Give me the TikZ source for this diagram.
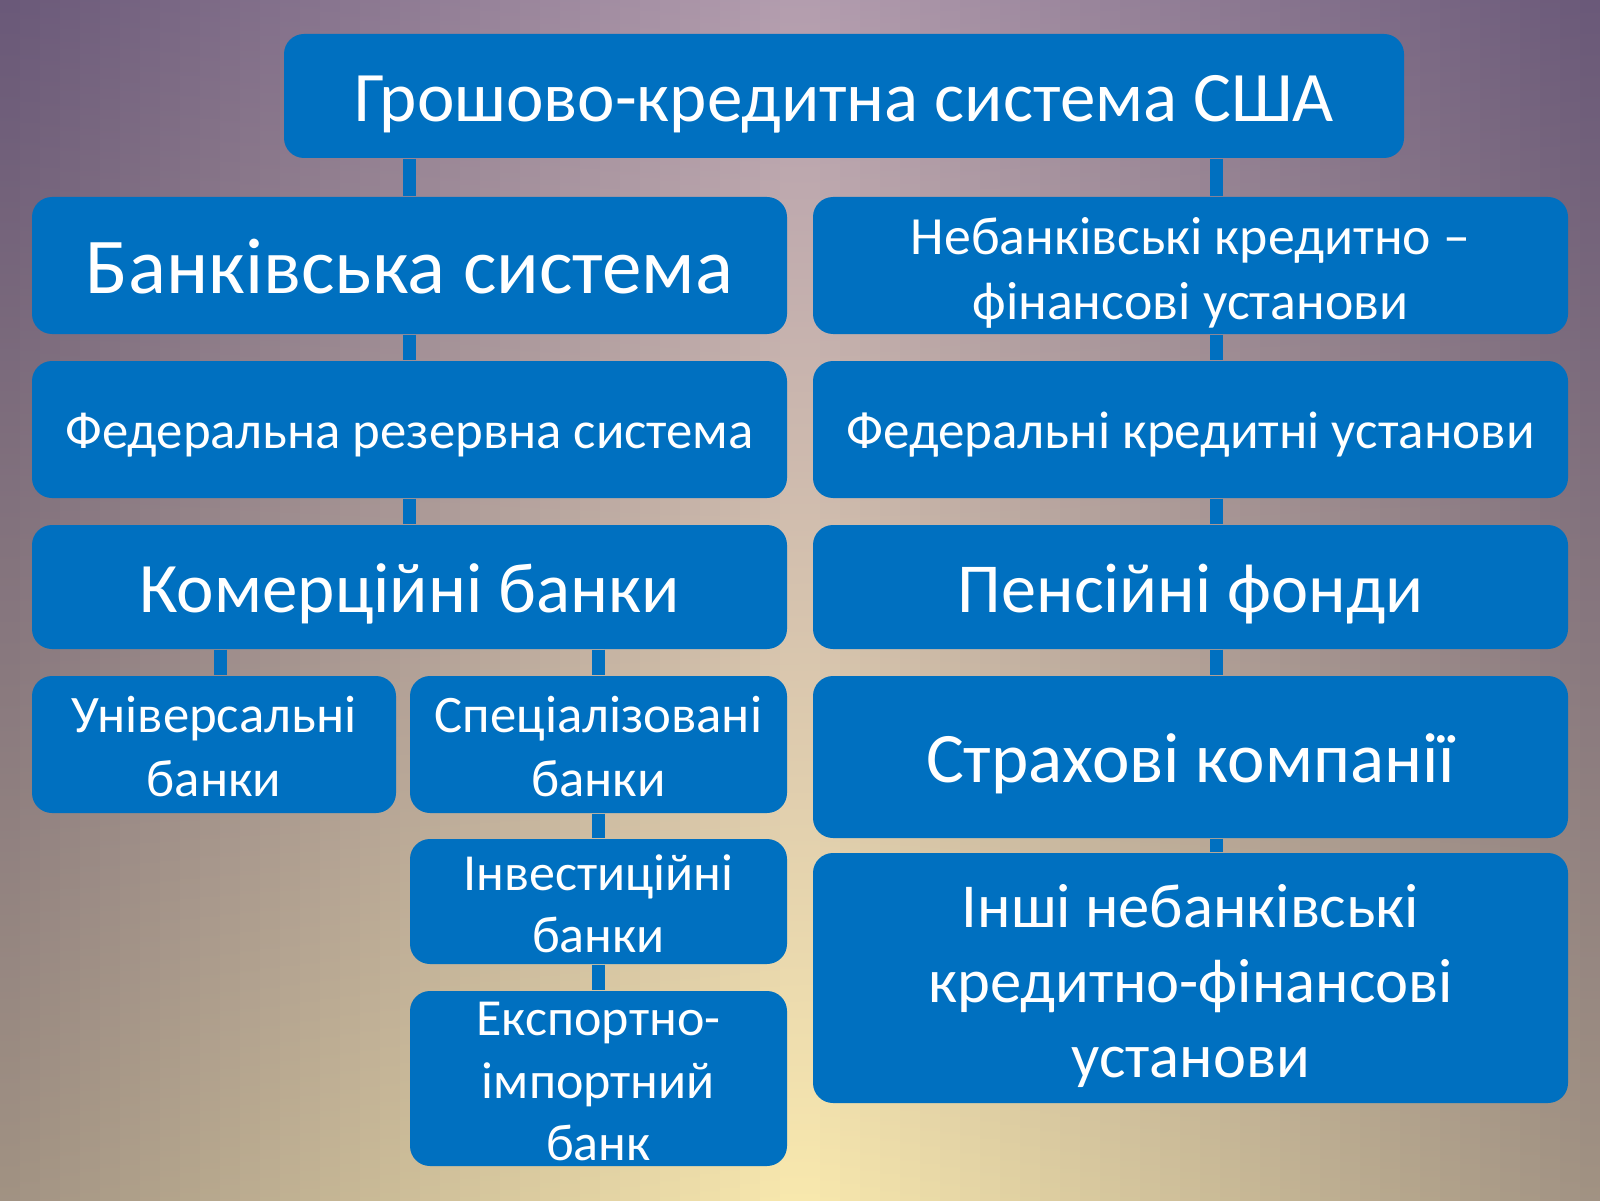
\documentclass[tikz,border=0pt]{standalone}
\usepackage{fontspec}
\setmainfont{Carlito}
\usetikzlibrary{positioning}
\definecolor{boxblue}{HTML}{0070C0}
\definecolor{bgtop}{HTML}{B49EAF}
\definecolor{bgmid}{HTML}{E4D2B4}
\definecolor{bgbot}{HTML}{F9E9AE}
\definecolor{edgetop}{HTML}{695878}
\definecolor{edgemid}{HTML}{918087}
\definecolor{edgebot}{HTML}{A09182}
\tikzset{
  box/.style = {fill=boxblue, rounded corners=0.2cm, text=white, align=center, inner sep=0pt},
  link/.style = {draw=boxblue, line width=0.13cm},
}
\newcommand{\fs}[1]{\fontsize{#1}{1.2\dimexpr #1pt\relax}\selectfont}
\newcommand{\lead}[1]{\rule{0pt}{#1em}}
\newcommand{\oneline}[1]{\rule[-0.1em]{0pt}{0.92em}\smash{#1}}

\begin{document}
\begin{tikzpicture}
  % background
  \useasboundingbox (0,0) rectangle (16,12);
  \foreach \i in {0,...,79} {
    \pgfmathsetmacro{\p}{100*(1-abs(\i*0.2+0.1-8)/8)}
    \shade[top color=bgtop!\p!edgetop, middle color=bgmid!\p!edgemid, bottom color=bgbot!\p!edgebot]
      (\i*0.2,0) rectangle ++(0.21,12);
  }

  \node[box, minimum width=11.2cm, minimum height=1.24cm, font=\fs{20.2}] (top) at (8.44,11.04) {\oneline{Грошово-кредитна система США}};

  % banking side
  \node[box, minimum width=7.55cm, minimum height=1.37cm, font=\fs{22.5}] (bank) at (4.095,9.345) {\oneline{Банківська система}};
  \node[box, minimum width=7.55cm, minimum height=1.37cm, font=\fs{15}] (frs) at (4.095,7.705) {\oneline{Федеральна резервна система}};
  \node[box, minimum width=7.55cm, minimum height=1.24cm, font=\fs{20.2}] (comm) at (4.095,6.13) {\oneline{Комерційні банки}};
  \node[box, minimum width=3.64cm, minimum height=1.37cm, font=\fs{15}] (univ) at (2.14,4.555) {\lead{0.77}Універсальні\\банки};
  \node[box, minimum width=3.77cm, minimum height=1.37cm, font=\fs{15}] (spec) at (5.985,4.555) {\lead{0.77}Спеціалізовані\\банки};
  \node[box, minimum width=3.77cm, minimum height=1.25cm, font=\fs{14.8}] (inv) at (5.985,2.985) {\lead{0.77}Інвестиційні\\банки};
  \node[box, minimum width=3.77cm, minimum height=1.75cm, font=\fs{14.8}] (exim) at (5.985,1.215) {\lead{0.77}Експортно-\\імпортний\\банк};

  % non-banking side
  \node[box, minimum width=7.55cm, minimum height=1.37cm, font=\fs{15.3}] (nonbank) at (11.905,9.345) {\lead{0.97}Небанківські кредитно –\\фінансові установи};
  \node[box, minimum width=7.55cm, minimum height=1.37cm, font=\fs{15.1}] (fci) at (11.905,7.705) {\oneline{Федеральні кредитні установи}};
  \node[box, minimum width=7.55cm, minimum height=1.24cm, font=\fs{20}] (pens) at (11.905,6.13) {\oneline{Пенсійні фонди}};
  \node[box, minimum width=7.55cm, minimum height=1.62cm, font=\fs{20.2}] (ins) at (11.905,4.43) {\oneline{Страхові компанії}};
  \node[box, minimum width=7.55cm, minimum height=2.5cm, font=\fs{17.8}] (other) at (11.905,2.22) {\lead{0.95}Інші небанківські\\кредитно-фінансові\\установи};

  \coordinate (rc) at (12.16,0);
  \coordinate (uc) at (2.2,0);
  \draw[link] (top.south -| bank) -- (bank.north) (bank) -- (frs) (frs) -- (comm);
  \draw[link] (comm.south -| uc) -- (univ.north -| uc) (comm.south -| spec) -- (spec.north);
  \draw[link] (spec) -- (inv) (inv) -- (exim);
  \draw[link] (top.south -| rc) -- (nonbank.north -| rc) (nonbank.south -| rc) -- (fci.north -| rc)
    (fci.south -| rc) -- (pens.north -| rc) (pens.south -| rc) -- (ins.north -| rc) (ins.south -| rc) -- (other.north -| rc);
\end{tikzpicture}
\end{document}
